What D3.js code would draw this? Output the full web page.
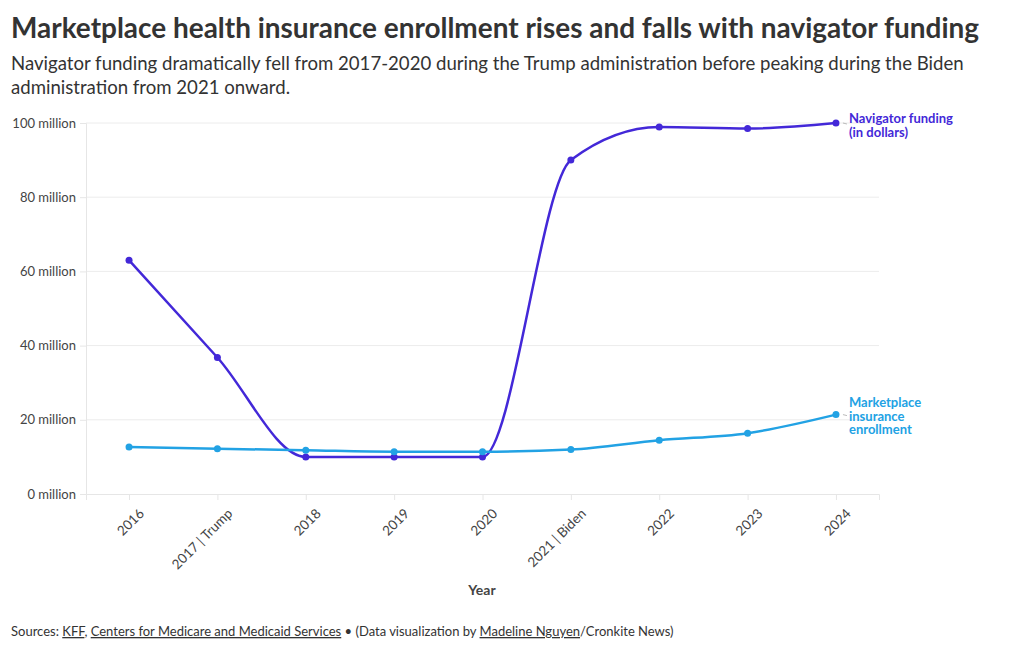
<!DOCTYPE html>
<html><head><meta charset="utf-8">
<script src="https://cdn.jsdelivr.net/npm/d3@7"></script>
<style>
body{margin:0;background:#fff;}
svg text{font-family:"Source Sans Pro","Lato","Noto Sans",sans-serif;}
</style></head>
<body>
<svg id="c" width="1020" height="650"></svg>
<script>
const years = ["2016","2017 | Trump","2018","2019","2020","2021 | Biden","2022","2023","2024"];
const navigatorFunding = [63, 36.8, 10, 10, 10, 90, 98.9, 98.5, 100]; // millions of dollars
const enrollment = [12.7, 12.2, 11.8, 11.4, 11.4, 12.0, 14.5, 16.4, 21.4]; // millions
const yTicks = [0, 20, 40, 60, 80, 100];
const seriesNames = [["Navigator funding","(in dollars)"],["Marketplace","insurance","enrollment"]];

const svg = d3.select("#c");
const M = {left:86, right:879, top:123, bottom:494};
const x = d3.scalePoint().domain(years).range([M.left, M.right]).padding(0.487);
const y = d3.scaleLinear().domain([0,100]).range([M.bottom, M.top]);
const FF = '"Source Sans Pro","Lato","Noto Sans",sans-serif';

svg.append("text").attr("x",11).attr("y",38).attr("fill","#333").attr("font-weight",700).attr("font-size",28)
  .attr("textLength",968).attr("lengthAdjust","spacingAndGlyphs")
  .text("Marketplace health insurance enrollment rises and falls with navigator funding");
svg.append("text").attr("x",11).attr("y",70).attr("fill","#333").attr("font-size",18.6)
  .text("Navigator funding dramatically fell from 2017-2020 during the Trump administration before peaking during the Biden");
svg.append("text").attr("x",11).attr("y",94).attr("fill","#333").attr("font-size",18.6)
  .text("administration from 2021 onward.");

svg.append("g").selectAll("line").data(yTicks.slice(1)).join("line")
  .attr("x1",M.left).attr("x2",M.right).attr("y1",d=>y(d)).attr("y2",d=>y(d))
  .attr("stroke","#ececec").attr("stroke-width",1);

const ya = svg.append("g").attr("transform",`translate(${M.left},0)`)
  .call(d3.axisLeft(y).tickValues(yTicks).tickSize(6).tickPadding(4).tickFormat(d=>d+" million"));
ya.select(".domain").attr("stroke","#e6e6e6");
ya.selectAll(".tick line").attr("stroke","#e6e6e6");
ya.selectAll("text").attr("fill","#444").attr("font-size",13).style("font-family",FF);

const xa = svg.append("g").attr("transform",`translate(0,${M.bottom})`)
  .call(d3.axisBottom(x).tickSize(6).tickPadding(4));
xa.select(".domain").attr("stroke","#e6e6e6");
xa.selectAll(".tick line").attr("stroke","#e6e6e6");
xa.selectAll("text").attr("fill","#444").attr("font-size",13.5)
  .style("font-family",FF)
  .attr("text-anchor","end").attr("dy","0.35em")
  .attr("transform","translate(5,10) rotate(-45)");

svg.append("text").attr("x",482).attr("y",595).attr("text-anchor","middle").attr("fill","#444")
  .attr("font-weight",700).attr("font-size",14).text("Year");

const colors = ["#4328d8","#22a2e4"];
const series = [navigatorFunding, enrollment];
const line = d3.line().x((d,i)=>x(years[i])).y(d=>y(d)).curve(d3.curveMonotoneX);
series.forEach((s,k)=>{
  svg.append("path").attr("d",line(s)).attr("fill","none").attr("stroke",colors[k]).attr("stroke-width",2.5);
  svg.selectAll(null).data(s).join("circle").attr("cx",(d,i)=>x(years[i])).attr("cy",d=>y(d)).attr("r",3.5).attr("fill",colors[k]);
  const last = s[s.length-1];
  const lx = x(years[years.length-1]);
  svg.append("line").attr("x1",lx+7).attr("x2",lx+11).attr("y1",y(last)).attr("y2",y(last)+1).attr("stroke","#bbb");
  const n = seriesNames[k].length;
  seriesNames[k].forEach((nm,j)=>{
    svg.append("text").attr("x",lx+13).attr("fill",colors[k]).attr("font-weight",700).attr("font-size",13)
      .attr("y",y(last)+ (j - (n-1)/2)*13.2 + (k==0?7:6)).text(nm);
  });
});

const f = svg.append("text").attr("x",11).attr("y",636).attr("fill","#333").attr("font-size",13);
f.append("tspan").text("Sources: ");
f.append("tspan").attr("text-decoration","underline").text("KFF");
f.append("tspan").text(", ");
f.append("tspan").attr("text-decoration","underline").text("Centers for Medicare and Medicaid Services");
f.append("tspan").text(" • (Data visualization by ");
f.append("tspan").attr("text-decoration","underline").text("Madeline Nguyen");
f.append("tspan").text("/Cronkite News)");
</script>
</body></html>
